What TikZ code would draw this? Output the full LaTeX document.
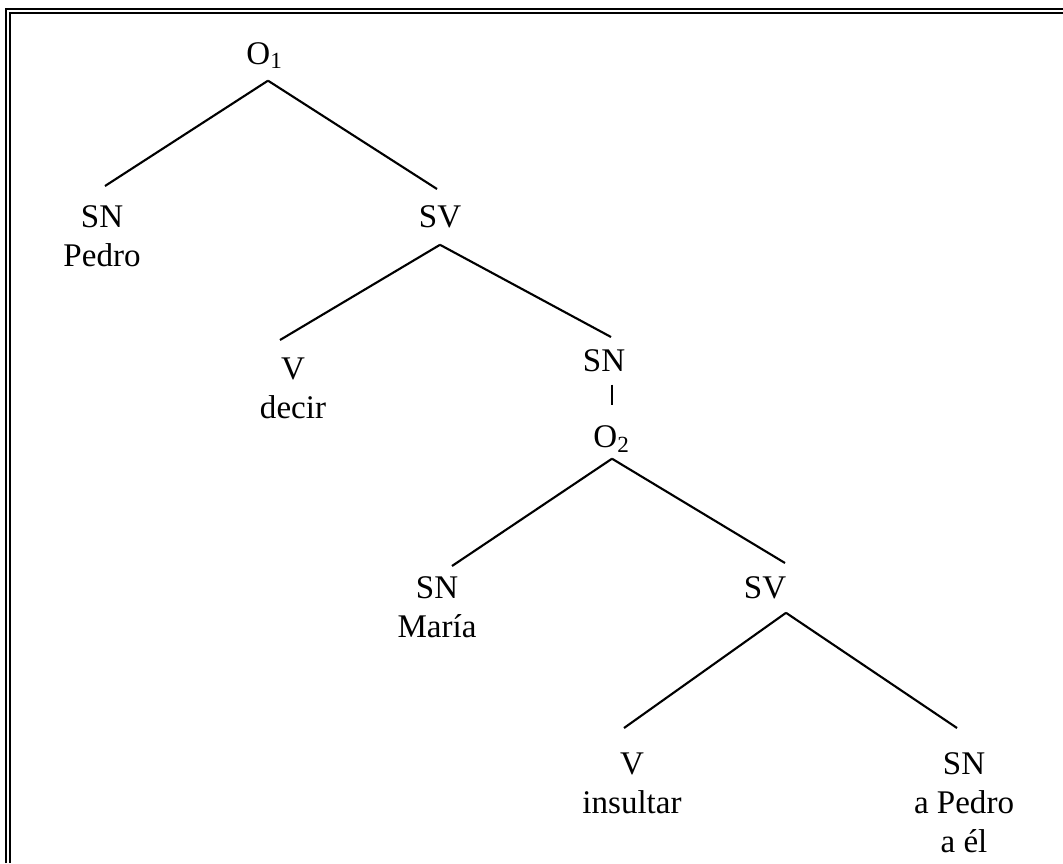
\documentclass[tikz,border=0pt]{standalone}
\usepackage{fontspec}
\setmainfont{Liberation Serif}
\begin{document}
\begin{tikzpicture}[x=1cm,y=1cm]
		\tikzset{cat/.style={align=center, anchor=north, inner xsep=0pt, inner ysep=0.14cm, font=\fontsize{9.4}{11.06}\selectfont},
			branch/.style={line width=0.6pt},
			frame/.style={line width=0.6pt}}
		\useasboundingbox (0,0) rectangle (10.63,-8.63);
		%Rahmen (doppelt, nur oben und links)
		\draw[frame] (0.06,-8.63) -- (0.06,-0.09) -- (10.63,-0.09);
		\draw[frame] (0.10,-8.63) -- (0.10,-0.13) -- (10.63,-0.13);
		%Kategorien
		\node at (2.65,-0.31) [cat, inner ysep=0.11cm] (o1) {O\textsubscript{1}};
		\node at (1.02,-1.86) [cat, inner ysep=0.19cm] (sn1) {SN\\Pedro};
		\node at (4.40,-1.89) [cat, inner ysep=0.16cm] (sv1) {SV};
		\node at (2.93,-3.40) [cat, inner ysep=0.17cm] (v1) {V\\decir};
		\node at (6.04,-3.37) [cat, inner ysep=0.12cm] (sn2) {SN};
		\node at (6.12,-4.12) [cat, inner ysep=0.13cm] (o2) {O\textsubscript{2}};
		\node at (4.37,-5.66) [cat, inner ysep=0.10cm] (sn3) {SN\\María};
		\node at (7.65,-5.63) [cat, inner ysep=0.13cm] (sv2) {SV};
		\node at (6.32,-7.28) [cat, inner ysep=0.24cm] (v2) {V\\insultar};
		\node at (9.64,-7.28) [cat, inner ysep=0.24cm] (sn4) {SN\\a Pedro\\a él};
		%Aeste
		\draw[branch] ([xshift=0.3mm]o1.south) -- ([xshift=0.3mm]sn1.north);
		\draw[branch] ([xshift=0.3mm]o1.south) -- ([xshift=-0.3mm]sv1.north);
		\draw[branch] (sv1.south) -- ([xshift=-1.3mm]v1.north);
		\draw[branch] (sv1.south) -- ([xshift=0.7mm]sn2.north);
		\draw[branch] (sn2.south -| o2.north) -- ([yshift=0.7mm]o2.north);
		\draw[branch] ([yshift=0.7mm]o2.south) -- ([xshift=1.5mm]sn3.north);
		\draw[branch] ([yshift=0.7mm]o2.south) -- ([xshift=2mm]sv2.north);
		\draw[branch] ([xshift=2.1mm]sv2.south) -- ([xshift=-0.8mm]v2.north);
		\draw[branch] ([xshift=2.1mm]sv2.south) -- ([xshift=-0.7mm]sn4.north);
\end{tikzpicture}
\end{document}
